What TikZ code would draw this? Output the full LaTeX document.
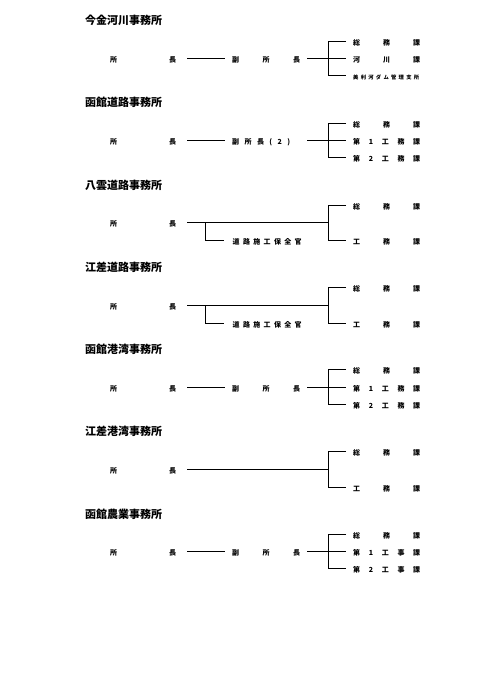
\documentclass[tikz,border=0pt]{standalone}
\usepackage{fontspec}
\setmainfont{Noto Sans CJK JP}
\tikzset{
  ttl/.style={anchor=west, inner sep=0pt, font=\fontsize{11}{11}\selectfont\bfseries, text height=0.88em, text depth=0.12em},
  lbl/.style={inner ysep=0pt, font=\fontsize{7}{7}\selectfont\bfseries, text height=0.88em, text depth=0.12em},
  chief/.style={lbl, anchor=west, inner xsep=11pt},
  vice/.style={lbl, anchor=west, inner xsep=7pt},
  sect/.style={lbl, anchor=west, inner xsep=7pt},
  smallsect/.style={sect, font=\fontsize{5.3}{5.3}\selectfont\bfseries},
  subo/.style={lbl, anchor=west, inner xsep=8.5pt},
  ln/.style={line width=1.25pt}
}
\newcommand\chiefT{\makebox[66pt][s]{所\hfil 長}}
\newcommand\viceT{\makebox[68pt][s]{副\hfil 所\hfil 長}}
\newcommand\somuT{\makebox[67pt][s]{総\hfil 務\hfil 課}}
\newcommand\komuT{\makebox[67pt][s]{工\hfil 務\hfil 課}}
\newcommand\hoanT{\makebox[69pt][s]{道\hfil 路\hfil 施\hfil 工\hfil 保\hfil 全\hfil 官}}
\begin{document}
\begin{tikzpicture}[x=1pt,y=-1pt]
\useasboundingbox (0,0) rectangle (481,680);
% ---------- 1
\node[ttl] (t1) at (85,21) {今金河川事務所};
\node[chief] (c1) at (99,58.5) {\chiefT};
\node[vice] (v1) at (225,58.5) {\viceT};
\coordinate (b1) at (328.5,58.5);
\node[sect] (r1a) at (346,41.5) {\somuT};
\node[sect] (r1b) at (346,58.5) {\makebox[67pt][s]{河\hfil 川\hfil 課}};
\node[smallsect] (r1c) at (346,75.5) {\makebox[66pt][s]{美\hfil 利\hfil 河\hfil ダ\hfil ム\hfil 管\hfil 理\hfil 支\hfil 所}};
\draw[ln] (c1.east) -- (v1.west) (v1.east) -- (b1);
\draw[ln] (r1a.west) -| (b1 |- r1c.west) -- (r1c.west);
\draw[ln] (b1) -- (r1b.west);
% ---------- 2
\node[ttl] (t2) at (85,103) {函館道路事務所};
\node[chief] (c2) at (99,140.5) {\chiefT};
\node[vice] (v2) at (225,140.5) {\makebox[68pt][l]{\makebox[58pt][s]{副\hfil 所\hfil 長\hfil (\hfil 2\hfil )}}};
\coordinate (b2) at (328.5,140.5);
\node[sect] (r2a) at (346,123.5) {\somuT};
\node[sect] (r2b) at (346,140.5) {\makebox[67pt][s]{第\hfil 1\hfil 工\hfil 務\hfil 課}};
\node[sect] (r2c) at (346,157.5) {\makebox[67pt][s]{第\hfil 2\hfil 工\hfil 務\hfil 課}};
\draw[ln] (c2.east) -- (v2.west) (v2.east) -- (b2);
\draw[ln] (r2a.west) -| (b2 |- r2c.west) -- (r2c.west);
\draw[ln] (b2) -- (r2b.west);
% ---------- 3
\node[ttl] (t3) at (85,185.5) {八雲道路事務所};
\node[chief] (c3) at (99,222.5) {\chiefT};
\coordinate (b3) at (328.5,222.5);
\coordinate (s3) at (205.5,222.5);
\node[subo] (o3) at (224,240.5) {\hoanT};
\node[sect] (r3a) at (346,205.5) {\somuT};
\node[sect] (r3b) at (346,240.5) {\komuT};
\draw[ln] (c3.east) -- (b3);
\draw[ln] (s3) |- (o3.west);
\draw[ln] (r3a.west) -| (b3) |- (r3b.west);
% ---------- 4
\node[ttl] (t4) at (85,268) {江差道路事務所};
\node[chief] (c4) at (99,305.5) {\chiefT};
\coordinate (b4) at (328.5,305.5);
\coordinate (s4) at (205.5,305.5);
\node[subo] (o4) at (224,323.5) {\hoanT};
\node[sect] (r4a) at (346,287.5) {\somuT};
\node[sect] (r4b) at (346,323.5) {\komuT};
\draw[ln] (c4.east) -- (b4);
\draw[ln] (s4) |- (o4.west);
\draw[ln] (r4a.west) -| (b4) |- (r4b.west);
% ---------- 5
\node[ttl] (t5) at (85,350) {函館港湾事務所};
\node[chief] (c5) at (99,387.5) {\chiefT};
\node[vice] (v5) at (225,387.5) {\viceT};
\coordinate (b5) at (328.5,387.5);
\node[sect] (r5a) at (346,369.5) {\somuT};
\node[sect] (r5b) at (346,387.5) {\makebox[67pt][s]{第\hfil 1\hfil 工\hfil 務\hfil 課}};
\node[sect] (r5c) at (346,404.5) {\makebox[67pt][s]{第\hfil 2\hfil 工\hfil 務\hfil 課}};
\draw[ln] (c5.east) -- (v5.west) (v5.east) -- (b5);
\draw[ln] (r5a.west) -| (b5 |- r5c.west) -- (r5c.west);
\draw[ln] (b5) -- (r5b.west);
% ---------- 6
\node[ttl] (t6) at (85,432) {江差港湾事務所};
\node[chief] (c6) at (99,469.5) {\chiefT};
\coordinate (b6) at (328.5,469.5);
\node[sect] (r6a) at (346,451.5) {\somuT};
\node[sect] (r6b) at (346,487.5) {\komuT};
\draw[ln] (c6.east) -- (b6);
\draw[ln] (r6a.west) -| (b6) |- (r6b.west);
% ---------- 7
\node[ttl] (t7) at (85,514.5) {函館農業事務所};
\node[chief] (c7) at (99,551.5) {\chiefT};
\node[vice] (v7) at (225,551.5) {\viceT};
\coordinate (b7) at (328.5,551.5);
\node[sect] (r7a) at (346,534.5) {\somuT};
\node[sect] (r7b) at (346,551.5) {\makebox[67pt][s]{第\hfil 1\hfil 工\hfil 事\hfil 課}};
\node[sect] (r7c) at (346,568.5) {\makebox[67pt][s]{第\hfil 2\hfil 工\hfil 事\hfil 課}};
\draw[ln] (c7.east) -- (v7.west) (v7.east) -- (b7);
\draw[ln] (r7a.west) -| (b7 |- r7c.west) -- (r7c.west);
\draw[ln] (b7) -- (r7b.west);
\end{tikzpicture}
\end{document}
